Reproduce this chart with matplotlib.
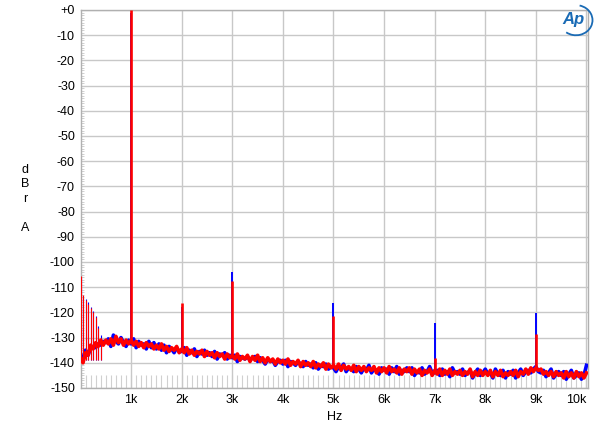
import matplotlib
matplotlib.use("Agg")
import matplotlib.pyplot as plt
from matplotlib.patches import Arc
import numpy as np

plt.rcParams['font.family'] = ['Liberation Sans', 'DejaVu Sans']

# noise floor, one value every 50 Hz from 0 to 10 kHz
noise_step = 50
red_floor = [
    -138, -140, -136, -137, -133, -134.5, -132, -133.5, -131, -133,
    -131, -132.5, -130.5, -133, -129.5, -132, -130.5, -133, -131, -132.5,
    -131, -133, -131.5, -133.5, -132, -134, -132, -133.5, -132.5, -134.5,
    -133, -134.5, -132.5, -135, -133.5, -135.5, -134, -135, -133.5, -136,
    -134.5, -136, -134, -136.5, -135, -137, -135.5, -136.5, -135, -137.5,
    -135.5, -137, -136, -138, -136, -137.5, -136.5, -138.5, -136.5, -138,
    -137, -138.5, -136.5, -139, -137.5, -138.5, -137, -139.5, -137.5, -139,
    -137, -139.5, -138, -140, -138, -139.5, -138.5, -140.5, -138.5, -140,
    -139, -140.5, -138.5, -141, -139.5, -140.5, -139, -141.5, -139.5, -141,
    -140, -141.5, -139.5, -142, -140.5, -141.5, -140, -142.5, -140.5, -142,
    -141, -142.5, -140.5, -143, -141, -142.5, -141.5, -143, -141, -143.5,
    -141.5, -143, -141.5, -143.5, -142, -143, -141.5, -144, -142, -143.5,
    -142, -144, -141.5, -143.5, -142.5, -144, -142, -144.5, -142.5, -143.5,
    -142, -144.5, -142.5, -144, -142.5, -145, -143, -144, -142.5, -145,
    -143, -144.5, -142.5, -145, -143, -144.5, -142.5, -145, -143.5, -144.5,
    -143, -145, -143.5, -144.5, -142.5, -145.5, -143.5, -145, -143, -145,
    -143.5, -145, -143, -145.5, -143.5, -145, -143, -145.5, -144, -145,
    -143.5, -145, -143, -145.5, -143.5, -144.5, -142.5, -144.5, -142, -143.5,
    -142, -143, -142.5, -144.5, -143.5, -145, -143.5, -145.5, -143.5, -145,
    -144, -146, -143.5, -145.5, -144, -146, -143.5, -145.5, -144, -146,
    -144,
]
blue_floor = [
    -139, -138, -135, -137, -134, -133.5, -134, -132.5, -133, -131.5,
    -132, -130.5, -133.5, -129, -131.5, -132.5, -130, -132, -133.5, -131,
    -132.5, -130.5, -134, -131.5, -133, -132.5, -134.5, -131.5, -134, -132,
    -134.5, -132.5, -135, -133, -136, -133.5, -134.5, -136, -134, -135.5,
    -135.5, -134, -137, -135, -136, -134.5, -137.5, -135.5, -136.5, -135,
    -137, -136, -137.5, -135.5, -138.5, -136.5, -137, -136, -138.5, -137,
    -138, -137, -139.5, -137.5, -138, -138.5, -137.5, -139, -138, -137.5,
    -139.5, -138, -139, -140.5, -138.5, -139.5, -139, -141, -139.5, -139,
    -140.5, -139, -141.5, -139.5, -140, -141, -139.5, -140.5, -141.5, -139.5,
    -141, -140.5, -142, -140, -142.5, -141, -141.5, -140.5, -142.5, -141.5,
    -142, -143.5, -141.5, -142, -140.5, -143.5, -142, -142.5, -143.5, -141.5,
    -142.5, -144, -142, -143, -141, -144, -142.5, -143, -144.5, -142,
    -143, -142.5, -144.5, -142, -143.5, -141.5, -144.5, -143, -143.5, -142,
    -143.5, -142, -145, -143.5, -144, -142, -144.5, -143.5, -141.5, -144,
    -144, -143, -145, -142.5, -144.5, -143.5, -145.5, -142, -144, -143.5,
    -144.5, -142.5, -145, -144, -143, -146, -144, -142.5, -145, -144,
    -142.5, -144.5, -144, -146, -142.5, -144.5, -145, -143, -146, -143.5,
    -144.5, -143, -146, -144, -142.5, -145, -143.5, -143, -144, -142.5,
    -141.5, -143.5, -144, -143, -145.5, -144, -142.5, -146, -144.5, -143.5,
    -145, -143.5, -146.5, -144.5, -143, -146, -145, -144, -146.5, -145,
    -141,
]

# discrete tones (Hz, dB)
harm_freqs = [1000, 2000, 3000, 5000, 7000, 9000]
harm_base = [-132, -135, -137.5, -141, -143, -142]
red_harm = [0, -116.3, -107.4, -121.4, -138, -128.7]
blue_harm = [-1, -118, -103.8, -116.1, -124.1, -120.1]

hum_freqs = [5, 50, 100, 150, 200, 250, 300, 350, 400]
hum_base = -139
red_hum = [-105.6, -113, -115, -116.7, -118.4, -120, -122, -126, -130]
blue_hum = [-106, -113.5, -114.5, -116, -118, -119.5, -121.5, -125.5, -129]

xtick_vals = [1000, 2000, 3000, 4000, 5000, 6000, 7000, 8000, 9000, 10000]
xtick_labels = ['1k', '2k', '3k', '4k', '5k', '6k', '7k', '8k', '9k', '10k']
ytick_vals = list(range(0, -151, -10))
ytick_labels = ['+0'] + [str(v) for v in ytick_vals[1:]]

freqs = np.arange(len(red_floor)) * noise_step

fig = plt.figure(figsize=(6, 4.3), dpi=100)
ax = fig.add_axes([80.5 / 600, 1 - 388 / 430, (588 - 80.5) / 600, 378 / 430])

grid_c = '#c8c8c8'
ax.set_xlim(0, 10030)
ax.set_ylim(-150, 0)
ax.set_xticks(xtick_vals)
ax.set_xticklabels(xtick_labels, fontsize=9)
ax.get_xticklabels()[-1].set_ha('right')
ax.set_yticks(ytick_vals)
ax.set_yticklabels(ytick_labels, fontsize=9)
ax.tick_params(length=0, pad=4)
ax.grid(True, color=grid_c, lw=1)
for s in ax.spines.values():
    s.set_color('#b0b0b0')
    s.set_linewidth(1)

# minor ticks drawn inside the frame
ax.vlines(np.arange(100, 10030, 100), -150, -145, color='#d0d0d0', lw=0.8, zorder=1)
ax.hlines(np.arange(-149, 0, 1), 0, 70, color='#d0d0d0', lw=0.7, zorder=1)

# blue channel first, red on top
ax.plot(freqs, blue_floor, color='#0000ff', lw=2.6, zorder=3)
ax.vlines(harm_freqs, harm_base, blue_harm, color='#0000ff', lw=1.4, zorder=3)
ax.vlines(hum_freqs, hum_base, blue_hum, color='#0000ff', lw=0.8, zorder=3)

ax.plot(freqs, red_floor, color='#ff0000', lw=2.6, zorder=4)
ax.vlines(harm_freqs, harm_base, red_harm, color='#ff0000', lw=1.9, zorder=4)
ax.vlines(hum_freqs, hum_base, red_hum, color='#ff0000', lw=0.8, zorder=4)

ax.set_xlabel('Hz', fontsize=9, labelpad=4)
fig.text(0.042, 0.537, 'd\nB\nr\n\nA', ha='center', va='center', fontsize=9, linespacing=1.3)

# AP logo
fig.text(0.955, 0.955, 'Ap', ha='center', va='center', fontsize=12, style='italic',
         fontweight='bold', color='#1a6bb5')
fig.patches.append(Arc((0.96, 0.953), 0.055, 0.07, theta1=-120, theta2=80,
                       transform=fig.transFigure, color='#1a6bb5', lw=1.3))

fig.savefig('out.png', dpi=100)
